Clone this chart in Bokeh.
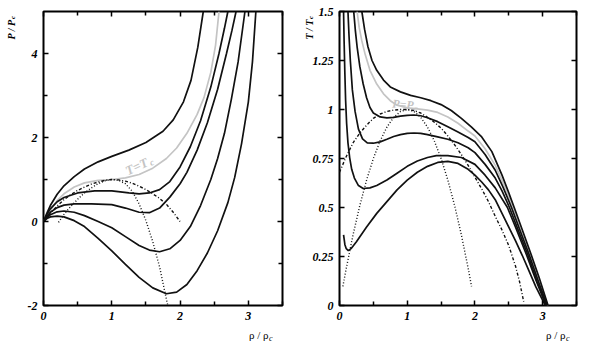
import math
from bokeh.plotting import figure
from bokeh.models import (LinearAxis, FixedTicker, Label, Range1d, CustomJSTickFormatter,
                          CustomLabelingPolicy)
from bokeh.layouts import row
from bokeh.embed import file_html
from bokeh.resources import INLINE

# ---------------- left panel: isotherms, P/Pc vs rho/rhoc ----------------
iso_hot_rho = [0, 0.05, 0.1, 0.2, 0.3, 0.45, 0.6, 0.8, 1.0, 1.25, 1.5, 1.75, 1.9, 2.05, 2.16, 2.26, 2.34]
iso_hot_P = [0, 0.2, 0.38, 0.65, 0.85, 1.07, 1.25, 1.42, 1.55, 1.70, 1.88, 2.15, 2.42, 2.85, 3.36, 4.15, 5.0]

iso_crit_rho = [0, 0.05, 0.1, 0.2, 0.3, 0.45, 0.6, 0.8, 1.0, 1.2, 1.4, 1.6, 1.8, 1.95, 2.1, 2.25, 2.35, 2.45, 2.52, 2.57]
iso_crit_P = [0, 0.14, 0.27, 0.5, 0.66, 0.82, 0.92, 0.98, 1.0, 1.04, 1.12, 1.27, 1.5, 1.75, 2.1, 2.55, 2.95, 3.55, 4.2, 5.0]

iso_b_rho = [0, 0.05, 0.1, 0.2, 0.3, 0.5, 0.75, 1.0, 1.25, 1.4, 1.55, 1.7, 1.85, 2.0, 2.15, 2.3, 2.45, 2.57, 2.65, 2.7]
iso_b_P = [0, 0.17, 0.3, 0.47, 0.57, 0.68, 0.73, 0.73, 0.68, 0.66, 0.68, 0.76, 0.95, 1.3, 1.78, 2.4, 3.2, 4.0, 4.6, 5.0]

iso_c_rho = [0, 0.05, 0.1, 0.2, 0.3, 0.45, 0.7, 1.0, 1.2, 1.4, 1.55, 1.7, 1.85, 2.0, 2.1, 2.25, 2.4, 2.55, 2.68, 2.76, 2.82]
iso_c_P = [0, 0.12, 0.22, 0.33, 0.39, 0.42, 0.42, 0.40, 0.32, 0.22, 0.21, 0.32, 0.58, 0.9, 1.17, 1.7, 2.35, 3.15, 4.0, 4.55, 5.0]

iso_d_rho = [0, 0.05, 0.1, 0.2, 0.3, 0.45, 0.6, 0.8, 1.0, 1.2, 1.4, 1.55, 1.7, 1.85, 2.0, 2.15, 2.3, 2.45, 2.55, 2.65, 2.75, 2.85, 2.95]
iso_d_P = [0, 0.1, 0.16, 0.23, 0.25, 0.22, 0.14, 0.0, -0.15, -0.36, -0.57, -0.68, -0.72, -0.65, -0.45, -0.12, 0.38, 1.0, 1.5, 2.1, 2.9, 3.8, 5.0]

iso_e_rho = [0, 0.05, 0.1, 0.2, 0.3, 0.45, 0.6, 0.8, 1.0, 1.2, 1.4, 1.6, 1.8, 1.95, 2.1, 2.25, 2.4, 2.55, 2.7, 2.8, 2.9, 3.0, 3.06, 3.11]
iso_e_P = [0, 0.07, 0.11, 0.13, 0.11, 0.02, -0.12, -0.4, -0.7, -1.02, -1.33, -1.58, -1.72, -1.68, -1.5, -1.17, -0.75, -0.22, 0.45, 1.05, 1.85, 2.85, 3.8, 5.0]

spin_left_rho = [0.22, 0.3, 0.4, 0.5, 0.6, 0.7, 0.8, 0.9, 1.0, 1.1, 1.2, 1.3, 1.4, 1.5, 1.6, 1.7, 1.78, 1.82]
spin_left_P = [-0.02, 0.17, 0.36, 0.53, 0.68, 0.8, 0.9, 0.97, 1.0, 0.98, 0.9, 0.72, 0.42, 0.02, -0.48, -1.08, -1.7, -2.0]

coex_left_rho = [0, 0.1, 0.2, 0.3, 0.4, 0.5, 0.6, 0.7, 0.8, 0.9, 1.0, 1.1, 1.2, 1.3, 1.4, 1.5, 1.6, 1.7, 1.8, 1.9, 2.0]
coex_left_P = [0, 0.2, 0.37, 0.52, 0.64, 0.74, 0.82, 0.89, 0.94, 0.98, 1.0, 0.99, 0.96, 0.91, 0.84, 0.76, 0.66, 0.55, 0.41, 0.22, 0.0]

# ---------------- right panel: isobars, T/Tc vs rho/rhoc ----------------
bar_hi_rho = [0.33, 0.37, 0.42, 0.48, 0.55, 0.65, 0.75, 0.9, 1.05, 1.2, 1.35, 1.5, 1.65, 1.8, 1.95, 2.1, 2.25, 2.4, 2.5, 2.58, 2.7, 2.83, 2.95, 3.08]
bar_hi_T = [1.5, 1.41, 1.32, 1.25, 1.2, 1.15, 1.115, 1.09, 1.072, 1.06, 1.045, 1.025, 0.995, 0.955, 0.91, 0.86, 0.785, 0.665, 0.575, 0.5, 0.385, 0.26, 0.14, 0.0]

bar_crit_rho = [0.26, 0.29, 0.33, 0.38, 0.45, 0.55, 0.65, 0.75, 0.85, 1.0, 1.15, 1.3, 1.45, 1.6, 1.75, 1.9, 2.0, 2.15, 2.3, 2.45, 2.56, 2.7, 2.82, 2.95, 3.075]
bar_crit_T = [1.5, 1.42, 1.35, 1.28, 1.2, 1.13, 1.08, 1.045, 1.022, 1.008, 1.003, 0.997, 0.985, 0.962, 0.93, 0.89, 0.865, 0.8, 0.715, 0.6, 0.5, 0.36, 0.26, 0.13, 0.0]

bar_1_rho = [0.21, 0.235, 0.26, 0.3, 0.35, 0.4, 0.45, 0.5, 0.6, 0.7, 0.8, 0.9, 1.0, 1.1, 1.2, 1.3, 1.45, 1.6, 1.75, 1.9, 2.0, 2.15, 2.3, 2.42, 2.54, 2.68, 2.8, 2.94, 3.07]
bar_1_T = [1.5, 1.4, 1.32, 1.22, 1.13, 1.06, 1.01, 0.982, 0.962, 0.957, 0.96, 0.966, 0.97, 0.972, 0.968, 0.958, 0.938, 0.912, 0.885, 0.857, 0.835, 0.77, 0.69, 0.6, 0.5, 0.37, 0.26, 0.12, 0.0]

bar_2_rho = [0.125, 0.14, 0.16, 0.19, 0.23, 0.28, 0.34, 0.41, 0.5, 0.6, 0.7, 0.8, 0.9, 1.0, 1.1, 1.2, 1.3, 1.45, 1.6, 1.75, 1.9, 2.0, 2.15, 2.3, 2.4, 2.51, 2.65, 2.78, 2.92, 3.06]
bar_2_T = [1.5, 1.38, 1.25, 1.1, 0.99, 0.9, 0.85, 0.83, 0.828, 0.835, 0.848, 0.862, 0.872, 0.878, 0.88, 0.878, 0.872, 0.86, 0.848, 0.83, 0.805, 0.78, 0.72, 0.65, 0.585, 0.5, 0.375, 0.26, 0.12, 0.0]

bar_3_rho = [0.06, 0.068, 0.078, 0.09, 0.105, 0.125, 0.15, 0.18, 0.22, 0.28, 0.35, 0.45, 0.55, 0.7, 0.85, 1.0, 1.15, 1.3, 1.43, 1.6, 1.8, 2.0, 2.15, 2.3, 2.48, 2.6, 2.76, 2.9, 3.05]
bar_3_T = [1.5, 1.35, 1.2, 1.05, 0.93, 0.83, 0.755, 0.695, 0.65, 0.612, 0.597, 0.6, 0.612, 0.64, 0.675, 0.71, 0.737, 0.755, 0.765, 0.765, 0.755, 0.72, 0.665, 0.6, 0.5, 0.4, 0.26, 0.13, 0.0]

bar_4_rho = [0.06, 0.08, 0.1, 0.13, 0.17, 0.25, 0.4, 0.55, 0.7, 0.85, 1.0, 1.15, 1.3, 1.45, 1.6, 1.75, 1.9, 2.0, 2.1, 2.2, 2.3, 2.4, 2.5, 2.6, 2.7, 2.8, 2.9, 3.04]
bar_4_T = [0.36, 0.31, 0.29, 0.28, 0.29, 0.325, 0.4, 0.47, 0.53, 0.59, 0.64, 0.68, 0.71, 0.73, 0.735, 0.725, 0.695, 0.665, 0.63, 0.59, 0.54, 0.47, 0.4, 0.33, 0.255, 0.175, 0.095, 0.0]

spin_right_rho = [0.05, 0.1, 0.2, 0.3, 0.4, 0.5, 0.6, 0.7, 0.8, 0.9, 1.0, 1.1, 1.2, 1.3, 1.4, 1.5, 1.6, 1.7, 1.8, 1.9, 1.95]
spin_right_T = [0.0975, 0.19, 0.36, 0.51, 0.64, 0.75, 0.84, 0.91, 0.96, 0.99, 1.0, 0.99, 0.96, 0.91, 0.84, 0.75, 0.64, 0.51, 0.36, 0.19, 0.0975]

coex_right_rho = [0.0, 0.05, 0.1, 0.2, 0.3, 0.4, 0.5, 0.6, 0.7, 0.8, 0.9, 1.0, 1.1, 1.2, 1.3, 1.4, 1.5, 1.6, 1.7, 1.8, 1.9, 2.0, 2.1, 2.2, 2.3, 2.4, 2.5, 2.6, 2.66, 2.72]
coex_right_T = [0.68, 0.72, 0.76, 0.83, 0.88, 0.92, 0.955, 0.977, 0.99, 0.997, 1.0, 1.0, 0.995, 0.982, 0.96, 0.935, 0.905, 0.865, 0.82, 0.77, 0.715, 0.655, 0.595, 0.53, 0.455, 0.385, 0.305, 0.2, 0.12, 0.02]

# ticks
left_x_ticks = [0, 1, 2, 3]
left_x_minor = [0.5, 1.5, 2.5, 3.5]
left_y_ticks = [-2, 0, 2, 4]
left_y_minor = [-1, 1, 3]
right_x_ticks = [0, 1, 2, 3]
right_x_minor = [0.5, 1.5, 2.5, 3.5]
right_y_ticks = [0, 0.25, 0.5, 0.75, 1, 1.25, 1.5]

FONT = "Liberation Serif"
BLACK = "#111111"
GREY = "#c4c4c4"
LW = 1.7


def style_axis(ax, ticker, show_labels):
    ax.ticker = ticker
    ax.axis_line_color = None
    ax.major_tick_in = 5
    ax.major_tick_out = 0
    ax.minor_tick_in = 4
    ax.minor_tick_out = 0
    ax.major_tick_line_width = 1.5
    ax.minor_tick_line_width = 1.5
    ax.major_tick_line_color = "black"
    ax.minor_tick_line_color = "black"
    ax.formatter = CustomJSTickFormatter(code="return String(tick)")
    if show_labels:
        ax.major_label_text_font = FONT
        ax.major_label_text_font_style = "bold italic"
        ax.major_label_text_font_size = "12px"
        ax.major_label_text_color = "black"
        ax.major_label_standoff = 6
    else:
        # mirrored axis: tick marks only, no labels at all
        ax.major_label_policy = CustomLabelingPolicy(code="return []")
        ax.major_label_text_font_size = "0px"
        ax.major_label_standoff = 0


def make_fig(xr, yr, fw, bl, br, xt, yt):
    p = figure(frame_width=fw, frame_height=294, x_range=Range1d(*xr), y_range=Range1d(*yr),
               output_backend="svg", toolbar_location=None,
               min_border_left=bl, min_border_right=br, min_border_top=11, min_border_bottom=42)
    p.xgrid.visible = False
    p.ygrid.visible = False
    p.outline_line_color = "black"
    p.outline_line_width = 2
    p.background_fill_color = "white"
    p.border_fill_color = "white"
    style_axis(p.xaxis[0], FixedTicker(ticks=xt[0], minor_ticks=xt[1]), True)
    style_axis(p.yaxis[0], FixedTicker(ticks=yt[0], minor_ticks=yt[1]), True)
    top = LinearAxis()
    style_axis(top, FixedTicker(ticks=xt[0], minor_ticks=xt[1]), False)
    p.add_layout(top, "above")
    right = LinearAxis()
    style_axis(right, FixedTicker(ticks=yt[0], minor_ticks=yt[1]), False)
    p.add_layout(right, "right")
    return p


def txt(p, x, y, text, size, angle=0.0, color="black", style="bold italic", xo=0, yo=0,
        place=None):
    lab = Label(x=x, y=y, text=text, text_font=FONT, text_font_style=style,
                text_font_size=f"{size}px", text_color=color, angle=angle,
                x_offset=xo, y_offset=yo, text_align="left", text_baseline="alphabetic")
    if place is None:
        p.add_layout(lab)
    else:
        p.add_layout(lab, place)


# ---------------- left figure ----------------
p1 = make_fig((0, 3.5), (-2, 5), 239, 43, 18,
              (left_x_ticks, left_x_minor), (left_y_ticks, left_y_minor))
p1.line(iso_crit_rho, iso_crit_P, line_color=GREY, line_width=LW)
for xs, ys in [(iso_hot_rho, iso_hot_P), (iso_b_rho, iso_b_P), (iso_c_rho, iso_c_P),
               (iso_d_rho, iso_d_P), (iso_e_rho, iso_e_P)]:
    p1.line(xs, ys, line_color=BLACK, line_width=LW)
p1.line(spin_left_rho, spin_left_P, line_color=BLACK, line_width=1.4, line_dash="1 2")
p1.line(coex_left_rho, coex_left_P, line_color=BLACK, line_width=1.4, line_dash="3 2 1 2")

ang = 0.45
txt(p1, 1.21, 1.19, "T=T", 13, angle=ang, color=GREY)
txt(p1, 1.21, 1.19, "c", 9, angle=ang, color=GREY,
    xo=25 * math.cos(ang) + 3 * math.sin(ang), yo=25 * math.sin(ang) - 3 * math.cos(ang))
txt(p1, -0.475, 4.333, "P / P", 10, angle=math.pi / 2, place="left")
txt(p1, -0.475, 4.333, "c", 7, angle=math.pi / 2, xo=2, yo=20.5, place="above")
txt(p1, 3.01, -2.714, "\u03c1 / \u03c1", 11, style="normal", place="below")
txt(p1, 3.01, -2.714, "c", 8, style="italic", xo=20, yo=-3, place="right")

# ---------------- right figure ----------------
p2 = make_fig((0, 3.5), (0, 1.5), 237, 39, 26,
              (right_x_ticks, right_x_minor), (right_y_ticks, []))
p2.line(bar_crit_rho, bar_crit_T, line_color=GREY, line_width=LW)
for xs, ys in [(bar_hi_rho, bar_hi_T), (bar_1_rho, bar_1_T), (bar_2_rho, bar_2_T),
               (bar_3_rho, bar_3_T), (bar_4_rho, bar_4_T)]:
    p2.line(xs, ys, line_color=BLACK, line_width=LW)
p2.line(spin_right_rho, spin_right_T, line_color=BLACK, line_width=1.4, line_dash="1 2")
p2.line(coex_right_rho, coex_right_T, line_color=BLACK, line_width=1.4, line_dash="3 2 1 2")

ang2 = -0.08
txt(p2, 0.78, 1.03, "P=P", 12, angle=ang2, color=GREY)
txt(p2, 0.78, 1.03, "c", 8, angle=ang2, color=GREY,
    xo=22 * math.cos(ang2) + 3 * math.sin(ang2), yo=22 * math.sin(ang2) - 3 * math.cos(ang2))
txt(p2, -0.45, 1.357, "T / T", 10, angle=math.pi / 2, place="right")
txt(p2, -0.45, 1.357, "c", 7, angle=math.pi / 2, xo=2, yo=20.5, place="above")
txt(p2, 3.05, -0.153, "\u03c1 / \u03c1", 11, style="normal", place="below")
txt(p2, 3.05, -0.153, "c", 8, style="italic", xo=20, yo=-3, place="below")

layout = row(p1, p2)
open("out.html", "w").write(file_html(layout, INLINE))
